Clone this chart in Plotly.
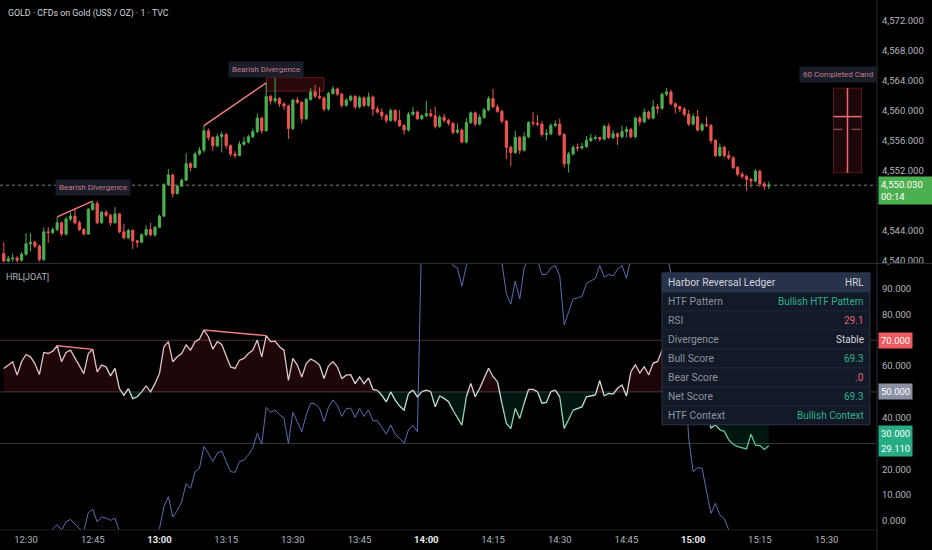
import pandas as pd
import plotly.graph_objects as go

# ---------------- data ----------------
first_open = 4540.9
closes = [
    4539.9, 4540.2, 4540.3, 4540.0, 4540.8, 4542.2, 4542.4, 4541.9, 4540.1, 4543.8,
    4543.7, 4544.1, 4545.0, 4543.5, 4545.5, 4545.9, 4545.0, 4544.1, 4543.5, 4546.8,
    4547.6, 4545.0, 4546.4, 4546.0, 4545.0, 4546.2, 4543.8, 4543.0, 4544.0, 4542.6,
    4542.4, 4543.4, 4544.1, 4543.4, 4544.4, 4545.9, 4550.1, 4551.4, 4548.9, 4549.9,
    4550.7, 4552.9, 4552.4, 4554.2, 4554.7, 4557.3, 4556.4, 4555.3, 4556.5, 4556.8,
    4555.3, 4554.2, 4554.0, 4555.5, 4555.8, 4556.5, 4557.2, 4559.0, 4557.3, 4561.9,
    4561.3, 4561.6, 4560.9, 4560.6, 4557.6, 4561.4, 4561.1, 4558.9, 4561.5, 4562.5,
    4561.9, 4561.7, 4560.2, 4562.3, 4562.9, 4562.2, 4560.7, 4561.4, 4561.9, 4560.5,
    4561.7, 4560.7, 4561.8, 4560.2, 4559.8, 4559.3, 4558.7, 4560.0, 4558.7, 4558.0,
    4557.4, 4559.5, 4559.8, 4558.9, 4559.3, 4559.6, 4559.3, 4557.9, 4559.1, 4558.7,
    4558.3, 4557.1, 4557.4, 4555.8, 4558.4, 4559.7, 4558.2, 4559.1, 4560.1, 4561.6,
    4560.5, 4559.9, 4558.6, 4555.1, 4554.4, 4556.4, 4554.7, 4556.5, 4558.4, 4558.3,
    4558.2, 4556.8, 4556.9, 4558.0, 4558.2, 4556.8, 4552.9, 4554.2, 4555.1, 4555.0,
    4555.2, 4556.0, 4556.3, 4556.4, 4556.2, 4557.9, 4556.4, 4556.9, 4556.5, 4557.2,
    4557.5, 4556.5, 4559.0, 4558.5, 4559.8, 4559.0, 4560.5, 4560.3, 4562.2, 4562.5,
    4560.9, 4560.5, 4560.2, 4559.5, 4558.2, 4559.2, 4557.4, 4558.1, 4558.0, 4556.0,
    4554.0, 4555.1, 4554.0, 4553.7, 4552.4, 4551.5, 4551.2, 4550.8, 4550.6, 4551.9,
    4550.2, 4549.9, 4550.03,
]
highs = [
    4542.4, 4540.6, 4540.9, 4540.6, 4541.1, 4543.6, 4543.6, 4542.6, 4542.1, 4544.4,
    4544.4, 4544.4, 4545.8, 4545.2, 4545.8, 4546.4, 4547.0, 4545.3, 4544.3, 4547.0,
    4547.9, 4547.9, 4546.6, 4546.7, 4546.2, 4547.1, 4546.3, 4544.9, 4544.2, 4544.1,
    4542.7, 4543.6, 4544.7, 4545.0, 4544.6, 4546.1, 4550.3, 4552.2, 4551.6, 4550.1,
    4550.9, 4554.3, 4553.1, 4554.5, 4555.1, 4558.0, 4557.6, 4556.6, 4556.9, 4557.2,
    4557.0, 4555.5, 4554.6, 4555.9, 4556.5, 4556.8, 4557.6, 4559.6, 4559.2, 4563.7,
    4562.1, 4564.4, 4561.8, 4561.1, 4560.8, 4561.6, 4561.8, 4561.3, 4561.7, 4563.0,
    4563.4, 4563.1, 4561.9, 4562.5, 4563.3, 4563.1, 4562.4, 4561.7, 4562.1, 4562.1,
    4562.0, 4561.9, 4562.4, 4562.0, 4560.6, 4560.3, 4559.6, 4560.3, 4560.2, 4560.1,
    4558.2, 4559.8, 4560.5, 4560.0, 4559.5, 4561.3, 4560.2, 4560.5, 4559.4, 4559.6,
    4558.9, 4558.5, 4558.3, 4557.6, 4559.0, 4559.9, 4559.9, 4559.5, 4560.3, 4561.9,
    4562.9, 4560.8, 4560.1, 4558.8, 4555.3, 4557.3, 4556.6, 4557.1, 4558.6, 4559.8,
    4559.4, 4558.6, 4557.5, 4558.3, 4558.7, 4558.9, 4557.0, 4554.5, 4555.4, 4555.6,
    4555.7, 4556.6, 4556.9, 4556.7, 4556.5, 4558.1, 4558.3, 4557.4, 4557.1, 4558.0,
    4557.9, 4557.7, 4559.2, 4559.3, 4560.3, 4560.0, 4561.4, 4560.9, 4562.4, 4563.0,
    4562.8, 4561.1, 4560.7, 4560.5, 4560.1, 4559.6, 4560.1, 4558.4, 4559.2, 4558.2,
    4556.2, 4555.6, 4555.3, 4554.6, 4553.9, 4552.6, 4551.8, 4551.4, 4551.0, 4552.2,
    4552.1, 4550.5, 4550.5,
]
lows = [
    4539.7, 4539.7, 4539.8, 4539.7, 4539.8, 4540.6, 4541.2, 4541.6, 4539.8, 4539.9,
    4542.3, 4543.5, 4543.9, 4543.2, 4543.3, 4545.2, 4544.8, 4543.9, 4543.3, 4543.4,
    4546.6, 4544.8, 4544.9, 4545.8, 4544.6, 4544.9, 4543.6, 4542.8, 4542.8, 4541.5,
    4541.7, 4542.3, 4543.2, 4543.2, 4543.1, 4544.3, 4545.8, 4550.0, 4548.4, 4548.8,
    4549.8, 4550.6, 4551.9, 4552.3, 4554.0, 4554.4, 4556.0, 4554.6, 4555.1, 4554.4,
    4554.9, 4553.9, 4553.6, 4553.9, 4555.3, 4555.6, 4556.3, 4557.0, 4556.9, 4557.2,
    4560.8, 4561.0, 4560.5, 4560.1, 4556.2, 4557.4, 4560.9, 4558.3, 4558.7, 4561.3,
    4561.7, 4561.5, 4559.9, 4560.0, 4562.1, 4561.9, 4560.4, 4560.5, 4561.2, 4560.2,
    4560.3, 4560.5, 4560.5, 4559.3, 4559.6, 4558.8, 4558.3, 4558.5, 4558.4, 4557.8,
    4556.8, 4557.2, 4559.3, 4558.7, 4558.7, 4559.1, 4559.1, 4557.6, 4557.7, 4558.4,
    4558.0, 4556.8, 4556.9, 4555.6, 4555.6, 4558.2, 4557.9, 4558.0, 4558.9, 4559.9,
    4560.3, 4559.7, 4558.3, 4553.5, 4552.6, 4554.2, 4554.2, 4554.5, 4556.3, 4557.9,
    4557.9, 4556.5, 4556.0, 4556.7, 4557.8, 4556.6, 4552.4, 4551.7, 4554.0, 4554.6,
    4554.8, 4555.0, 4555.8, 4556.0, 4555.9, 4556.0, 4556.2, 4556.2, 4555.4, 4556.3,
    4556.4, 4556.3, 4556.3, 4558.0, 4558.3, 4558.8, 4558.8, 4559.6, 4560.1, 4561.9,
    4560.7, 4559.6, 4559.8, 4559.2, 4557.9, 4558.0, 4557.2, 4557.2, 4557.8, 4555.6,
    4553.8, 4553.8, 4553.7, 4553.4, 4552.2, 4551.2, 4550.9, 4549.3, 4549.7, 4550.4,
    4549.8, 4549.4, 4549.5,
]
rsi = [
    59.1, 60.4, 61.7, 56.5, 61.7, 64.5, 63.6, 61.0, 56.7, 65.3,
    64.9, 65.8, 67.9, 61.7, 65.3, 66.2, 63.0, 59.7, 57.1, 64.9,
    66.5, 57.8, 60.4, 59.7, 56.2, 59.1, 51.3, 48.7, 51.3, 47.4,
    48.1, 50.0, 52.3, 50.0, 53.2, 57.1, 67.5, 69.5, 61.7, 63.6,
    64.9, 68.2, 66.2, 69.5, 70.5, 74.0, 71.4, 66.6, 69.5, 68.4,
    64.3, 59.7, 59.1, 62.3, 63.0, 64.9, 66.2, 70.1, 63.6, 71.8,
    69.5, 69.7, 67.5, 66.2, 54.5, 63.0, 60.4, 55.8, 61.0, 62.7,
    61.9, 60.4, 55.2, 60.1, 61.7, 59.7, 55.2, 56.5, 56.7, 53.2,
    55.8, 53.2, 55.4, 51.0, 50.6, 48.7, 46.1, 50.0, 46.8, 44.5,
    42.9, 49.4, 50.7, 48.1, 50.1, 50.7, 50.1, 44.2, 48.4, 47.5,
    46.2, 42.9, 40.0, 37.1, 48.1, 53.3, 48.1, 51.4, 55.0, 59.2,
    55.9, 54.0, 45.6, 37.8, 35.8, 43.6, 39.7, 45.6, 51.0, 51.0,
    50.1, 45.6, 45.9, 50.1, 50.7, 48.1, 35.8, 39.3, 42.9, 43.6,
    44.2, 48.1, 48.4, 48.8, 54.4, 48.4, 49.4, 49.1, 51.4, 52.7,
    48.4, 57.9, 60.5, 57.3, 59.8, 56.6, 61.1, 61.8, 66.1, 65.3,
    60.0, 57.0, 55.0, 52.0, 47.0, 50.0, 44.0, 46.0, 45.0, 36.0,
    37.2, 35.3, 34.7, 31.4, 29.7, 28.8, 28.3, 27.9, 33.6, 29.4,
    29.2, 27.7, 29.11,
]
score = [
    -8, -8, -7, -8, -6, -7, -8, -6, -7, -6, -5,
    -3.0, -1.5, -3.5, -0.4, 0.6, -1.1, -3.0, -4.0, 3.2,
    4.5, -0.4, 1.5, 1.1, 0.2, 1.1, -4.0, -7, -6, -8,
    -7, -6, -8, -6, -5, -3.0,
    5.4, 9.4, 1.5, 4.0, 7.4, 14.5, 12.6, 19.1, 20.4, 28.8, 26.2, 23.0, 26.2, 27.1,
    23.0, 19.1, 18.8, 23.0, 23.6, 25.6, 28.2, 34.0, 29.7, 44.0,
    42.1, 43.0, 41.1, 39.8, 30.1, 42.1, 38.5, 34.6, 41.1, 45.6,
    45.3, 43.7, 38.5, 44.0, 46.9, 44.8, 40.5, 43.5, 43.7, 40.1,
    43.7, 40.5, 43.0, 38.8, 38.8, 36.0, 33.6, 37.2, 33.6, 32.0,
    30.1, 35.4, 37.0, 34.6,
    115, 120, 118, 112, 110, 108,
    104, 99, 98, 91, 99, 104, 108, 110, 108, 112,
    106, 102, 100, 88, 84, 93, 86, 98, 102, 106,
    101, 95.5, 95.5, 98, 99, 95, 76, 81, 86, 86.5,
    87, 92, 93, 94, 99, 94.5, 95.5, 95, 97.5, 99,
    94, 102, 106, 110, 108, 112, 115, 110, 108, 104,
    96, 85, 70, 60, 32, 19.1, 20.6, 20.4, 12, 2.9,
    6.8, 2.3, 0.9, -3.5, -6, -7, -8, -8, -9, -8, -9, -10, -10,
]
div_pairs = [(12, 20), (45, 59)]
zone_start, zone_end, zone_lo, zone_hi = 59, 72, 4562.6, 4564.4
proj_high, proj_low, proj_mid, proj_avg = 4563.0, 4551.7, 4559.2, 4557.5
price_ticks = [4540, 4544, 4552, 4556, 4560, 4564, 4568, 4572]
osc_ticks = [0, 10, 20, 40, 60, 80, 90]
osc_levels = [70, 50, 30]
x_tick_labels = ["12:30", "12:45", "13:00", "13:15", "13:30", "13:45", "14:00",
                 "14:15", "14:30", "14:45", "15:00", "15:15", "15:30"]
table_rows = [
    ("HTF Pattern", "Bullish HTF Pattern"),
    ("RSI", "29.1"),
    ("Divergence", "Stable"),
    ("Bull Score", "69.3"),
    ("Bear Score", ".0"),
    ("Net Score", "69.3"),
    ("HTF Context", "Bullish Context"),
]

# ---------------- styling ----------------
DAY = "2025-01-06 "
times = pd.date_range(DAY + "12:25", periods=len(closes), freq="1min")
opens = [first_open] + closes[:-1]

W, H = 932, 550       # reference frame
FIG_H = 555           # rendered height (compensates vertical squeeze of the capture)
FONT = "Roboto"
BG = "#000000"
UP, DN = "#4caf50", "#ef5350"
DIV = "#f77c80"
AXC = "#b2b5be"
SEP = "#2a2e39"
PR = 877 / W

def py(p):
    return 1 - p / H

fig = go.Figure()

fig.add_trace(go.Candlestick(
    x=times, open=opens, high=highs, low=lows, close=closes,
    increasing=dict(line=dict(color=UP, width=1), fillcolor=UP),
    decreasing=dict(line=dict(color=DN, width=1), fillcolor=DN),
    whiskerwidth=0, xaxis="x", yaxis="y", showlegend=False, hoverinfo="skip"))

# oscillator fills
base = [50] * len(rsi)
rsi_up = [max(v, 50) for v in rsi]
rsi_dn = [min(v, 50) for v in rsi]
for arr, col in ((rsi_up, "rgba(242,54,69,0.13)"), (rsi_dn, "rgba(8,170,120,0.13)")):
    fig.add_trace(go.Scatter(x=times, y=base, yaxis="y2", mode="lines",
                             line=dict(width=0), showlegend=False, hoverinfo="skip"))
    fig.add_trace(go.Scatter(x=times, y=arr, yaxis="y2", mode="lines", line=dict(width=0),
                             fill="tonexty", fillcolor=col, showlegend=False, hoverinfo="skip"))

# blue score line
fig.add_trace(go.Scatter(x=times, y=score, yaxis="y2", mode="lines",
                         line=dict(color="#5f6cb4", width=1), showlegend=False, hoverinfo="skip"))

def rsi_col(v):
    if v >= 58:
        return "#e6c2c6"
    if v >= 50:
        return "#dad3d5"
    if v >= 43:
        return "#bfe2d3"
    if v >= 36:
        return "#8fd5b4"
    return "#5ec598"

segs = []
start = 0
cur = rsi_col((rsi[0] + rsi[1]) / 2)
for k in range(1, len(rsi) - 1):
    c = rsi_col((rsi[k] + rsi[k + 1]) / 2)
    if c != cur:
        segs.append((start, k, cur))
        start, cur = k, c
segs.append((start, len(rsi) - 1, cur))
for a, b, c in segs:
    fig.add_trace(go.Scatter(x=times[a:b + 1], y=rsi[a:b + 1], yaxis="y2", mode="lines",
                             line=dict(color=c, width=1.3), showlegend=False, hoverinfo="skip"))

# divergences
LBL_BG = "#1a1e2b"
for a, b in div_pairs:
    fig.add_trace(go.Scatter(x=[times[a], times[b]], y=[highs[a], highs[b]], yaxis="y",
                             mode="lines", line=dict(color=DIV, width=1.4),
                             showlegend=False, hoverinfo="skip"))
    fig.add_trace(go.Scatter(x=[times[a], times[b]], y=[rsi[a], rsi[b]], yaxis="y2",
                             mode="lines", line=dict(color=DIV, width=1.4),
                             showlegend=False, hoverinfo="skip"))
    fig.add_annotation(x=times[b], y=highs[b], xref="x", yref="y", text="Bearish Divergence",
                       showarrow=False, yanchor="bottom", yshift=5, bgcolor=LBL_BG, borderpad=3,
                       font=dict(family=FONT, size=8, color="#c47a86"))

shapes = []
shapes.append(dict(type="rect", xref="x", yref="y", x0=times[zone_start], x1=times[zone_end],
                   y0=zone_lo, y1=zone_hi, fillcolor="rgba(242,54,69,0.16)",
                   line=dict(color="rgba(242,54,69,0.40)", width=1), layer="below"))

# projection of completed candles
pc = times[-1] + pd.Timedelta(minutes=17.7)
hw = pd.Timedelta(minutes=3.15)
shapes.append(dict(type="rect", xref="x", yref="y", x0=pc - hw, x1=pc + hw,
                   y0=proj_low, y1=proj_high, fillcolor="rgba(242,54,69,0.12)",
                   line=dict(color="rgba(242,54,69,0.35)", width=1)))
shapes.append(dict(type="line", xref="x", yref="y", x0=pc, x1=pc, y0=proj_low, y1=proj_high,
                   line=dict(color="#f06a74", width=1.5)))
shapes.append(dict(type="line", xref="x", yref="y", x0=pc - hw, x1=pc + hw, y0=proj_mid, y1=proj_mid,
                   line=dict(color="#f06a74", width=1.5)))
shapes.append(dict(type="line", xref="x", yref="y", x0=pc - hw, x1=pc + hw, y0=proj_avg, y1=proj_avg,
                   line=dict(color="#a06068", width=1, dash="dash")))
fig.add_annotation(x=PR, xref="paper", y=proj_high, yref="y", text="60 Completed Cand",
                   showarrow=False, xanchor="right", yanchor="bottom", yshift=5, bgcolor=LBL_BG,
                   borderpad=3, font=dict(family=FONT, size=8, color="#c47a86"))

# level lines
lvl_cols = {70: "#4f2b31", 50: "#3a3a40", 30: "#2c3b38"}
for lv in osc_levels:
    shapes.append(dict(type="line", xref="paper", yref="y2", x0=0, x1=PR, y0=lv, y1=lv,
                       line=dict(color=lvl_cols[lv], width=1), layer="below"))

# current price line
shapes.append(dict(type="line", xref="paper", yref="y", x0=0, x1=PR, y0=closes[-1], y1=closes[-1],
                   line=dict(color="#7d8089", width=1, dash="dot"), layer="below"))

# separators
shapes.append(dict(type="line", xref="paper", yref="paper", x0=0, x1=1, y0=py(262.5), y1=py(262.5),
                   line=dict(color=SEP, width=1)))
shapes.append(dict(type="line", xref="paper", yref="paper", x0=0, x1=PR, y0=py(528), y1=py(528),
                   line=dict(color="#1c1f27", width=1)))
shapes.append(dict(type="line", xref="paper", yref="paper", x0=PR, x1=PR, y0=0, y1=1,
                   line=dict(color=SEP, width=1)))

# table
TX0, TX1, TY0 = 662, 870, 272
RH = 18.9
n_rows = len(table_rows) + 1
shapes.append(dict(type="rect", xref="paper", yref="paper", x0=TX0 / W, x1=TX1 / W,
                   y0=py(TY0 + RH * n_rows), y1=py(TY0), fillcolor="#131a27",
                   line=dict(color="#2a3447", width=1), layer="above"))
shapes.append(dict(type="rect", xref="paper", yref="paper", x0=TX0 / W, x1=TX1 / W,
                   y0=py(TY0 + RH), y1=py(TY0), fillcolor="#28324a",
                   line=dict(color="#2a3447", width=1), layer="above"))
for r in range(2, n_rows):
    shapes.append(dict(type="line", xref="paper", yref="paper", x0=TX0 / W, x1=TX1 / W,
                       y0=py(TY0 + RH * r), y1=py(TY0 + RH * r),
                       line=dict(color="#1f2636", width=1), layer="above"))

TEAL, PINK, LIGHT, GREY = "#2bb08f", "#e0607a", "#d1d4dc", "#8a919e"
val_colors = {"Bullish HTF Pattern": TEAL, "29.1": PINK, "Stable": LIGHT, "69.3": TEAL,
              ".0": PINK, "Bullish Context": TEAL}
cells = [("Harbor Reversal Ledger", "HRL", LIGHT, LIGHT)] + \
        [(k, v, GREY, val_colors[v]) for k, v in table_rows]
for r, (k, v, kc, vc) in enumerate(cells):
    yc = py(TY0 + RH * r + RH / 2)
    fig.add_annotation(x=(TX0 + 4) / W, y=yc, xref="paper", yref="paper", text=k, showarrow=False,
                       xanchor="left", yanchor="middle", font=dict(family=FONT, size=10.3, color=kc))
    fig.add_annotation(x=(TX1 - 4) / W, y=yc, xref="paper", yref="paper", text=v, showarrow=False,
                       xanchor="right", yanchor="middle", font=dict(family=FONT, size=10, color=vc))

# texts
fig.add_annotation(x=6 / W, y=py(13), xref="paper", yref="paper",
                   text="GOLD · CFDs on Gold (US$ / OZ) · 1 · TVC", showarrow=False,
                   xanchor="left", yanchor="middle", font=dict(family=FONT, size=8.8, color="#d1d4dc"))
fig.add_annotation(x=4 / W, y=py(276), xref="paper", yref="paper", text="HRL[JOAT]",
                   showarrow=False, xanchor="left", yanchor="middle",
                   font=dict(family=FONT, size=9, color=AXC))

# price badge
fig.add_annotation(x=PR, xref="paper", y=closes[-1], yref="y",
                   text=f"{closes[-1]:,.3f}<br>00:14", showarrow=False, align="left",
                   xanchor="left", yanchor="top", yshift=9, xshift=1, bgcolor=UP, borderpad=2,
                   width=50, font=dict(family=FONT, size=9.5, color="#ffffff"))

# oscillator badges
badges = [(70, f"{70:.3f}", "#ee5a5f", 0), (50, f"{50:.3f}", "#8b90a3", 0),
          (30, f"{30:.3f}", "#26ab84", 10), (rsi[-1], f"{rsi[-1]:.3f}", "#26ab84", -3)]
for yv, txt, col, sh in badges:
    fig.add_annotation(x=PR, xref="paper", y=yv, yref="y2", text=txt, showarrow=False,
                       xanchor="left", yanchor="middle", yshift=sh, xshift=1, bgcolor=col,
                       borderpad=2, font=dict(family=FONT, size=9.5, color="#ffffff"))

tickvals = [pd.Timestamp(DAY + t) for t in x_tick_labels]
ticktext = [f"<b><span style='color:#e6e8ee'>{t}</span></b>" if t.endswith(":00") else t
            for t in x_tick_labels]

fig.update_layout(
    width=W, height=FIG_H, margin=dict(l=0, r=0, t=0, b=0),
    paper_bgcolor=BG, plot_bgcolor=BG, showlegend=False, hovermode=False,
    font=dict(family=FONT, color=AXC),
    shapes=shapes,
    xaxis=dict(domain=[0, PR], anchor="y2", type="date",
               range=[pd.Timestamp(DAY + "12:24:09"), pd.Timestamp(DAY + "15:41:20")],
               tickvals=tickvals, ticktext=ticktext, showgrid=False, zeroline=False,
               showline=False, ticks="", ticklabelstandoff=3,
               tickfont=dict(family=FONT, size=9.5, color=AXC),
               rangeslider=dict(visible=False), fixedrange=True),
    yaxis=dict(domain=[py(262), 1], anchor="x", side="right", range=[4539.64, 4574.78],
               tickvals=price_ticks, tickformat=",.3f", showgrid=False, zeroline=False,
               showline=False, ticks="", ticklabelstandoff=4,
               tickfont=dict(family=FONT, size=9.5, color=AXC)),
    yaxis2=dict(domain=[py(528), py(263)], anchor="x", side="right", range=[-3.5, 99.6],
                tickvals=osc_ticks, tickformat=".3f", showgrid=False, zeroline=False,
                showline=False, ticks="", ticklabelstandoff=4,
                tickfont=dict(family=FONT, size=9.5, color=AXC)),
)

fig.write_html(
    "out.html", config={"displayModeBar": False},
    post_script=("var s=document.documentElement.style,b=document.body.style;"
                 "s.margin=b.margin='0';s.padding=b.padding='0';s.overflow=b.overflow='hidden';"
                 "s.background=b.background='#000';"))
